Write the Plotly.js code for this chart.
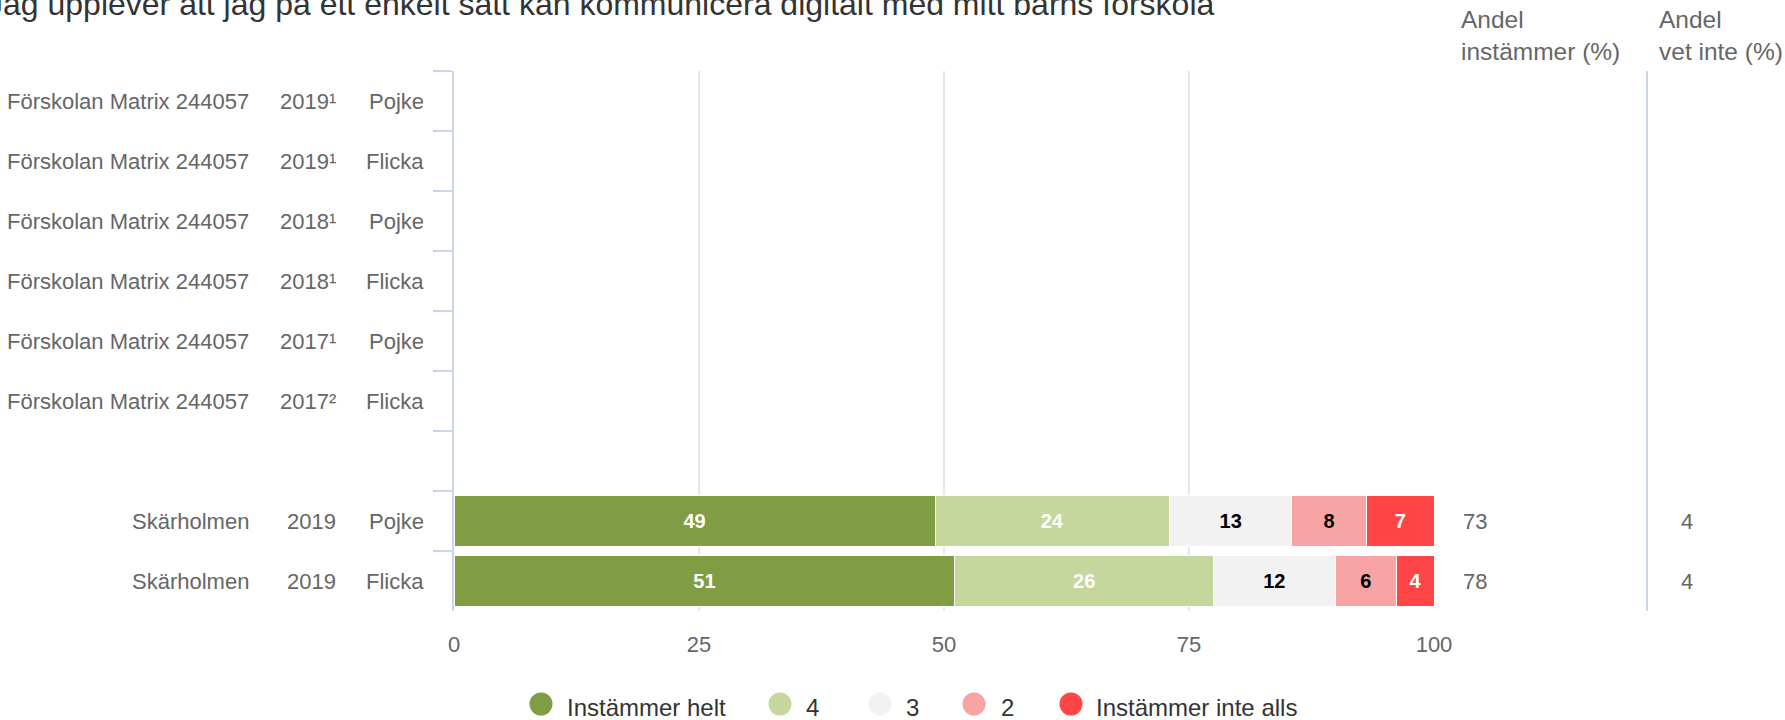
<!DOCTYPE html>
<html>
<head>
<meta charset="utf-8">
<script src="https://cdn.plot.ly/plotly-3.0.1.min.js"></script>
<style>html,body{margin:0;padding:0;background:#fff;}#chart{width:1785px;height:720px;}</style>
</head>
<body>
<div id="chart"></div>
<script>
// ---- data ----
const rowIds = ['r0','r1','r2','r3','r4','r5','r6','r7','r8'];
const schools = ['Förskolan Matrix 244057','Förskolan Matrix 244057','Förskolan Matrix 244057','Förskolan Matrix 244057','Förskolan Matrix 244057','Förskolan Matrix 244057','','Skärholmen','Skärholmen'];
const years = ['2019¹','2019¹','2018¹','2018¹','2017¹','2017²','','2019','2019'];
const genders = ['Pojke','Flicka','Pojke','Flicka','Pojke','Flicka','','Pojke','Flicka'];

const seriesNames = ['Instämmer helt','4','3','2','Instämmer inte alls'];
const instammerHelt = [null,null,null,null,null,null,null,49.1,51.1];
const svar4 = [null,null,null,null,null,null,null,23.9,26.4];
const svar3 = [null,null,null,null,null,null,null,12.5,12.4];
const svar2 = [null,null,null,null,null,null,null,7.6,6.3];
const instammerInteAlls = [null,null,null,null,null,null,null,6.9,3.8];
const andelInstammer = [null,null,null,null,null,null,null,73,78];
const andelVetInte = [null,null,null,null,null,null,null,4,4];
const xTicks = [0,25,50,75,100];

const titleText = 'Jag upplever att jag på ett enkelt sätt kan kommunicera digitalt med mitt barns förskola';
const header1 = 'Andel<br>instämmer (%)';
const header2 = 'Andel<br>vet inte (%)';

// ---- style ----
const seriesValues = [instammerHelt, svar4, svar3, svar2, instammerInteAlls];
const seriesColors = ['#809d44','#c5d79c','#f2f2f2','#f9a4a4','#ff4545'];
const labelColors = ['#ffffff','#ffffff','#000000','#000000','#ffffff'];
const FONT = 'Liberation Sans, Arial, sans-serif';
const W = 1785, H = 720;
const L = 454, R = 1434, T = 71, B = 611;
const px = p => (p - L) / (R - L);
const py = p => (B - p) / (B - T);

const traces = seriesValues.map((vals, i) => ({
  type: 'bar',
  orientation: 'h',
  name: seriesNames[i],
  y: rowIds,
  x: vals,
  text: vals.map(v => v == null ? '' : String(Math.round(v))),
  texttemplate: '%{text}',
  textposition: 'inside',
  insidetextanchor: 'middle',
  textangle: 0,
  constraintext: 'none',
  textfont: {family: FONT, size: 20, color: labelColors[i], weight: 'bold'},
  marker: {color: seriesColors[i], line: {color: '#ffffff', width: 1}},
  hoverinfo: 'skip',
  showlegend: false
}));

const annotations = [];
const lab = {family: FONT, size: 22, color: '#666666'};
rowIds.forEach((id, i) => {
  if (schools[i]) annotations.push({xref:'paper', yref:'y', x: px(251), y: id, xanchor:'right', yanchor:'middle', text: schools[i], showarrow:false, font: lab});
  if (years[i]) annotations.push({xref:'paper', yref:'y', x: px(338), y: id, xanchor:'right', yanchor:'middle', text: years[i], showarrow:false, font: lab});
  if (genders[i]) annotations.push({xref:'paper', yref:'y', x: px(426), y: id, xanchor:'right', yanchor:'middle', text: genders[i], showarrow:false, font: lab});
  if (andelInstammer[i] != null) annotations.push({xref:'paper', yref:'y', x: px(1461), y: id, xanchor:'left', yanchor:'middle', text: String(andelInstammer[i]), showarrow:false, font: lab});
  if (andelVetInte[i] != null) annotations.push({xref:'paper', yref:'y', x: px(1679), y: id, xanchor:'left', yanchor:'middle', text: String(andelVetInte[i]), showarrow:false, font: lab});
});
annotations.push({xref:'paper', yref:'paper', x: px(1459), y: py(36), xanchor:'left', yanchor:'middle', align:'left', text: header1, showarrow:false, font: {family: FONT, size: 24.5, color:'#666666'}});
annotations.push({xref:'paper', yref:'paper', x: px(1657), y: py(36), xanchor:'left', yanchor:'middle', align:'left', text: header2, showarrow:false, font: {family: FONT, size: 24.5, color:'#666666'}});
annotations.push({xref:'paper', yref:'paper', x: px(-15), y: py(3.5), xanchor:'left', yanchor:'middle', text: titleText, showarrow:false, font: {family: FONT, size: 32, color:'#333333'}});

// custom legend with round symbols
const legendCx = [541, 780, 880, 974, 1071];
const legendTx = [566, 805, 905, 1000, 1095];
const legendCy = 704, legendTy = 707, rad = 11.5;
const shapes = [
  {type:'line', xref:'paper', yref:'paper', x0: px(1647), x1: px(1647), y0: 0, y1: 1, line:{color:'#ccd6eb', width:2}}
];
seriesNames.forEach((n, i) => {
  shapes.push({type:'circle', xref:'paper', yref:'paper', x0: px(legendCx[i]-rad), x1: px(legendCx[i]+rad), y0: py(legendCy+rad), y1: py(legendCy-rad), fillcolor: seriesColors[i], line:{width:0}});
  annotations.push({xref:'paper', yref:'paper', x: px(legendTx[i]), y: py(legendTy), xanchor:'left', yanchor:'middle', borderpad: 0, text: n, showarrow:false, font: {family: FONT, size: 24, color:'#333333'}});
});

const layout = {
  width: W, height: H, autosize: false,
  margin: {l: L, r: W - R, t: T, b: H - B, pad: 0},
  paper_bgcolor: '#ffffff', plot_bgcolor: '#ffffff',
  barmode: 'stack', bargap: 0.135,
  showlegend: false,
  font: {family: FONT, color: '#666666'},
  xaxis: {
    range: [0, 100], tickvals: xTicks, ticktext: xTicks.map(String),
    showgrid: true, gridcolor: '#e6e6e6', gridwidth: 2,
    zeroline: false, showline: false, ticks: '',
    tickfont: {family: FONT, size: 22, color: '#666666'},
    ticklabelstandoff: 18, fixedrange: true
  },
  yaxis: {
    type: 'category', categoryorder: 'array', categoryarray: rowIds,
    range: [8.5, -0.5], showticklabels: false,
    ticks: 'outside', tickson: 'boundaries', ticklen: 19, tickwidth: 2, tickcolor: '#ccd6eb',
    showline: true, linecolor: '#ccd6eb', linewidth: 2, showgrid: false, zeroline: false, fixedrange: true
  },
  annotations: annotations,
  shapes: shapes
};

Plotly.newPlot('chart', traces, layout, {staticPlot: true, displayModeBar: false});
</script>
</body>
</html>
